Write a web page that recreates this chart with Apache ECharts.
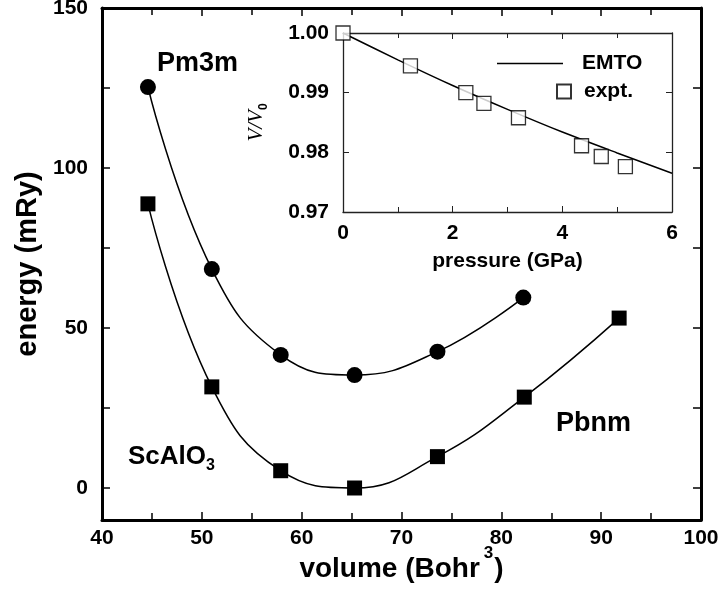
<!DOCTYPE html>
<html><head><meta charset="utf-8">
<script src="https://cdn.jsdelivr.net/npm/echarts@6/dist/echarts.min.js"></script>
<style>html,body{margin:0;padding:0;background:#fff}#c{width:720px;height:590px}</style>
</head><body><div id="c"></div>
<script>
// Main panel data
const volumePm3m = [44.6, 51.0, 57.9, 65.3, 73.6, 82.2];
const energyPm3m = [125.3, 68.4, 41.6, 35.3, 42.6, 59.5];
const volumePbnm = [44.6, 51.0, 57.9, 65.3, 73.6, 82.3, 91.8];
const energyPbnm = [88.8, 31.6, 5.4, 0.0, 9.8, 28.4, 53.1];
// Inset data
const pressureEMTO = [0, 1, 2, 3, 4, 5, 6];
const ratioEMTO = [1.0, 0.9955, 0.9912, 0.9872, 0.9834, 0.9799, 0.9765];
const pressureExpt = [0, 1.23, 2.24, 2.57, 3.20, 4.35, 4.71, 5.15];
const ratioExpt = [1.0, 0.9945, 0.9900, 0.9882, 0.9858, 0.9811, 0.9793, 0.9776];
// Tick values
const yTicksMain = [0, 50, 100, 150];
const yTickMarksMain = [0, 25, 50, 75, 100, 125, 150];

const zip = (a, b) => a.map((v, i) => [v, b[i]]);
const F = '"Liberation Sans", Arial, sans-serif';
const lbl = {fontFamily: F, fontWeight: 'bold', fontSize: 21, color: '#000'};
const ilbl = {fontFamily: F, fontWeight: 'bold', fontSize: 21, color: '#000'};

const chart = echarts.init(document.getElementById('c'), null, {renderer: 'canvas'});
const mainLine = {show: true, onZero: false, lineStyle: {color: '#000', width: 3}};
const inLine = {show: true, onZero: false, lineStyle: {color: '#222', width: 1.3}};
const mTick = {inside: true, length: 8, lineStyle: {width: 1.5, color: '#000'}};
const mMinor = {show: true, splitNumber: 2, length: 7, lineStyle: {width: 1.5, color: '#000'}};
const iTick = {inside: true, length: 6, lineStyle: {width: 1, color: '#222'}};
const iMinor = {show: true, splitNumber: 2, length: 5, lineStyle: {width: 1, color: '#222'}};
chart.setOption({
  animation: false,
  grid: [
    {left: 102, top: 8, width: 599, height: 512, outerBoundsMode: 'none', containLabel: false},
    {left: 343, top: 33, width: 329, height: 179, outerBoundsMode: 'none', containLabel: false}
  ],
  xAxis: [
    {gridIndex: 0, type: 'value', min: 40, max: 100, interval: 10,
     axisLine: mainLine, splitLine: {show: false}, axisTick: mTick, minorTick: mMinor,
     axisLabel: Object.assign({margin: 8}, lbl),
     name: '{a|volume (Bohr}{s|3}{a|)}', nameLocation: 'middle', nameGap: 25, nameMoveOverlap: false,
     nameTextStyle: {rich: {a: {fontFamily: F, fontWeight: 'bold', fontSize: 28, lineHeight: 38, verticalAlign: 'bottom', color: '#000'},
                            s: {fontFamily: F, fontWeight: 'bold', fontSize: 17, lineHeight: 17, verticalAlign: 'top', padding: [0, 1, 0, 4], color: '#000'}}}},
    {gridIndex: 0, type: 'value', position: 'top', min: 40, max: 100, interval: 10,
     axisLine: mainLine, splitLine: {show: false}, axisLabel: {show: false},
     axisTick: mTick, minorTick: mMinor},
    {gridIndex: 1, type: 'value', min: 0, max: 6, interval: 2,
     axisLine: inLine, splitLine: {show: false}, axisTick: iTick, minorTick: iMinor,
     axisLabel: Object.assign({margin: 11}, ilbl),
     name: 'pressure (GPa)', nameLocation: 'middle', nameGap: 39, nameMoveOverlap: false, nameTextStyle: ilbl},
    {gridIndex: 1, type: 'value', position: 'top', min: 0, max: 6, interval: 2,
     axisLine: inLine, splitLine: {show: false}, axisLabel: {show: false},
     axisTick: iTick, minorTick: iMinor}
  ],
  yAxis: [
    {gridIndex: 0, type: 'value', min: -10, max: 150, interval: 10,
     axisLine: mainLine, splitLine: {show: false},
     axisTick: Object.assign({customValues: yTickMarksMain}, mTick),
     axisLabel: Object.assign({margin: 14, customValues: yTicksMain}, lbl),
     name: 'energy (mRy)', nameLocation: 'middle', nameGap: 60, nameRotate: 90, nameMoveOverlap: false,
     nameTextStyle: {fontFamily: F, fontWeight: 'bold', fontSize: 29, color: '#000'}},
    {gridIndex: 0, type: 'value', position: 'right', min: -10, max: 150, interval: 10,
     axisLine: mainLine, splitLine: {show: false}, axisLabel: {show: false},
     axisTick: Object.assign({customValues: yTickMarksMain}, mTick)},
    {gridIndex: 1, type: 'value', min: 0.97, max: 1.0, interval: 0.01,
     axisLine: inLine, splitLine: {show: false}, axisTick: iTick,
     axisLabel: Object.assign({margin: 14, formatter: v => v.toFixed(2)}, ilbl),
     name: '{i|V/V}{s|0}', nameLocation: 'middle', nameGap: 73, nameRotate: 90, nameMoveOverlap: false,
     nameTextStyle: {rich: {i: {fontFamily: '"Liberation Serif", "Times New Roman", serif', fontStyle: 'italic', fontSize: 21, lineHeight: 24, verticalAlign: 'top', color: '#000'},
                            s: {fontFamily: F, fontWeight: 'bold', fontSize: 12, lineHeight: 12, color: '#000', verticalAlign: 'bottom'}}}},
    {gridIndex: 1, type: 'value', position: 'right', min: 0.97, max: 1.0, interval: 0.01,
     axisLine: inLine, splitLine: {show: false}, axisLabel: {show: false}, axisTick: iTick}
  ],
  legend: [
    {data: [{name: 'EMTO', icon: 'path://M0,0L66,0L66,1.6L0,1.6Z'}], left: 497, top: 53, padding: 0, itemWidth: 66, itemHeight: 14,
     itemStyle: {color: '#000', borderWidth: 0},
     textStyle: Object.assign({padding: [0, 0, 0, 14]}, ilbl), selectedMode: false},
    {data: ['expt.'], left: 556, top: 81, padding: 0, itemWidth: 14, itemHeight: 14,
     textStyle: Object.assign({padding: [0, 0, 0, 8]}, ilbl), selectedMode: false}
  ],
  series: [
    {name: 'Pm3m', type: 'line', xAxisIndex: 0, yAxisIndex: 0, data: zip(volumePm3m, energyPm3m),
     smooth: 0.45, symbol: 'circle', symbolSize: 16, lineStyle: {color: '#000', width: 1.5},
     itemStyle: {color: '#000'}},
    {name: 'Pbnm', type: 'line', xAxisIndex: 0, yAxisIndex: 0, data: zip(volumePbnm, energyPbnm),
     smooth: 0.45, symbol: 'rect', symbolSize: 15, lineStyle: {color: '#000', width: 1.5},
     itemStyle: {color: '#000'}},
    {name: 'EMTO', type: 'line', xAxisIndex: 2, yAxisIndex: 2, data: zip(pressureEMTO, ratioEMTO),
     smooth: 0.3, symbol: 'none', lineStyle: {color: '#000', width: 1.5}, itemStyle: {color: '#000'}},
    {name: 'expt.', type: 'scatter', xAxisIndex: 2, yAxisIndex: 2, data: zip(pressureExpt, ratioExpt),
     symbol: 'rect', symbolSize: 14, itemStyle: {color: '#fff', borderColor: '#000', borderWidth: 1.3}, z: 5}
  ],
  graphic: [
    {type: 'text', left: 157, top: 50, style: {text: 'Pm3m', font: 'bold 27px ' + F, fill: '#000'}},
    {type: 'text', left: 556, top: 410, style: {text: 'Pbnm', font: 'bold 27px ' + F, fill: '#000'}},
    {type: 'text', left: 128, top: 444, style: {text: '{a|ScAlO}{s|3}',
      rich: {a: {font: 'bold 26px ' + F, fill: '#000', lineHeight: 30, verticalAlign: 'top'},
             s: {font: 'bold 16px ' + F, fill: '#000', lineHeight: 16, verticalAlign: 'bottom'}}}}
  ]
});
</script></body></html>
